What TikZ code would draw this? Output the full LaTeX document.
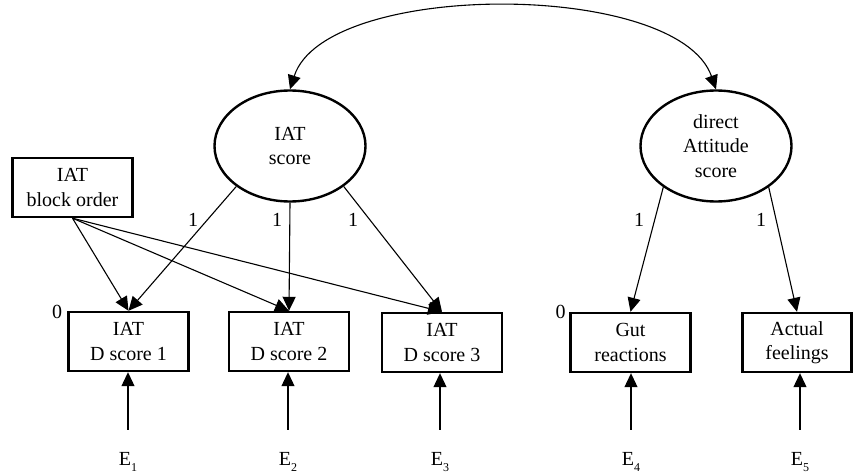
\documentclass[tikz,border=0pt]{standalone}
\usepackage{fontspec}
\setmainfont{Liberation Serif}
\usetikzlibrary{arrows.meta,shapes.geometric}

\tikzset{
  txt/.style={font=\fontsize{20}{24.5}\selectfont},
  obs/.style={txt, draw, line width=2.4pt, rectangle, align=center,
    minimum width=120pt, minimum height=59pt, inner sep=0pt},
  lat/.style={txt, draw, line width=2.4pt, ellipse, align=center,
    minimum width=151pt, minimum height=111pt, inner sep=0pt},
  path/.style={line width=1.1pt, -{Triangle[length=14pt,width=13pt]}},
  coef/.style={txt, inner sep=0pt},
  err/.style={txt, inner sep=0pt, anchor=base},
}
\newcommand{\errsub}[1]{E\raisebox{-6pt}{\fontsize{12}{12}\selectfont #1}}

\begin{document}
\begin{tikzpicture}[x=1pt,y=-1pt]
  \useasboundingbox (0,0) rectangle (854,476);

  % latent factors
  \node[lat] (iat) at (290,146) {IAT\\score};
  \node[lat] (dir) at (716,146) {direct\\Attitude\\score};

  % covariate and indicators
  \node[obs] (blk) at (72.5,187.5) {IAT\\block order};
  \node[obs] (d1) at (128.5,341.5) {IAT\\D score 1};
  \node[obs] (d2) at (289,341.5) {IAT\\D score 2};
  \node[obs] (d3) at (442,342.5) {IAT\\D score 3};
  \node[obs] (d4) at (630.5,342.5) {Gut\\reactions};
  \node[obs, minimum width=109pt] (d5) at (797,342.5) {Actual\\feelings};

  % intercept labels
  \node[coef] (z1) at (57,311.5) {0};
  \node[coef] (z4) at (560.5,311.5) {0};

  % factor covariance
  \draw[line width=1.1pt, {Triangle[length=14pt,width=13pt]}-{Triangle[length=14pt,width=13pt]}]
    (iat.north) .. controls (325,-20) and (678,-20) .. (dir.north);

  % block order effects
  \draw[path] (blk.south) -- (d1.north);
  \draw[path] (blk.south) -- (d2.north);
  \draw[path] (blk.south) -- (d3.north);

  % loadings
  \draw[path] (iat.217) -- (d1.north);
  \draw[path] (iat.south) -- (d2.north);
  \draw[path] (iat.323) -- (d3.north);
  \draw[path] (dir.218) -- (d4.north);
  \draw[path] (dir.322) -- (d5.north);

  \node[coef] (l1) at (193,220) {1};
  \node[coef] (l2) at (277,220) {1};
  \node[coef] (l3) at (353,220) {1};
  \node[coef] (l4) at (639,220) {1};
  \node[coef] (l5) at (761,220) {1};

  % error terms
  \node[err] (e1) at (128,465) {\errsub{1}};
  \node[err] (e2) at (288,465) {\errsub{2}};
  \node[err] (e3) at (440,465) {\errsub{3}};
  \node[err] (e4) at (631,465) {\errsub{4}};
  \node[err] (e5) at (800,465) {\errsub{5}};

  \foreach \i in {1,...,5}
    \draw[path, shorten <=22pt] (e\i.north) -- (e\i.north |- d\i.south);
\end{tikzpicture}
\end{document}
